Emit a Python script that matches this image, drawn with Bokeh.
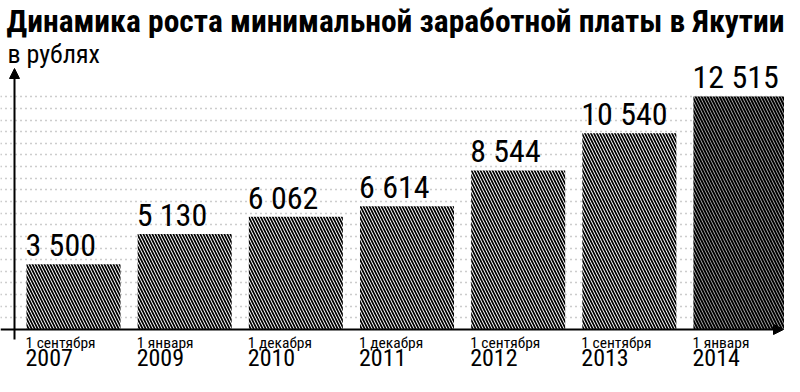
from bokeh.plotting import figure
from bokeh.models import ColumnDataSource, Label, Arrow, NormalHead, FixedTicker
from bokeh.core.properties import value
from bokeh.embed import file_html
from bokeh.resources import INLINE

# ---- data ----
dates = ["1 сентября", "1 января", "1 декабря", "1 декабря", "1 сентября", "1 сентября", "1 января"]
years = ["2007", "2009", "2010", "2011", "2012", "2013", "2014"]
wages = [3500, 5130, 6062, 6614, 8544, 10540, 12515]
value_labels = ["3 500", "5 130", "6 062", "6 614", "8 544", "10 540", "12 515"]
title_text = "Динамика роста минимальной заработной платы в Якутии"
unit_text = "в рублях"

FONT = "Roboto Condensed"
W, H = 784, 376
BAR_W = 0.846
GRID_STEP = 625

n = len(wages)
idx = list(range(n))
left = [i - BAR_W / 2 for i in idx]

src_main = ColumnDataSource(dict(x=idx[:-1], top=wages[:-1]))
src_last = ColumnDataSource(dict(x=idx[-1:], top=wages[-1:]))
src_txt = ColumnDataSource(dict(left=left, top=wages, lab=value_labels, date=dates, year=years))

# pixel mapping
PX_X = 111.17          # px per category
BASE_Y = 329           # baseline, px from top
RUB_PX = 53.71         # roubles per px
x0 = -73 / PX_X
p = figure(width=W, height=H, output_backend="svg", toolbar_location=None,
           x_range=(x0, x0 + W / PX_X),
           y_range=(-(H - BASE_Y) * RUB_PX, BASE_Y * RUB_PX),
           min_border=0, outline_line_color=None, background_fill_color="white")
p.xaxis.visible = False
p.yaxis.visible = False
p.xgrid.visible = False
p.ygrid.ticker = FixedTicker(ticks=[GRID_STEP * k for k in range(1, 21)])
p.ygrid.grid_line_color = "#9a9a9a"
p.ygrid.grid_line_dash = "1 4"
p.ygrid.grid_line_width = 1.5

p.vbar(x="x", top="top", bottom=0, width=BAR_W, source=src_main,
       fill_color="white", line_color=None,
       hatch_pattern="\\", hatch_color="black", hatch_scale=6, hatch_weight=1.7)
p.vbar(x="x", top="top", bottom=0, width=BAR_W, source=src_last,
       fill_color="#b0b0b0", line_color=None,
       hatch_pattern="\\", hatch_color="black", hatch_scale=6, hatch_weight=1.9)

p.text(x="left", y="top", text="lab", source=src_txt, text_baseline="bottom",
       text_align="left", y_offset=0, x_offset=-1,
       text_font=value(FONT), text_font_size="32px", text_color="black")
p.text(x="left", y=0, text="date", source=src_txt, text_baseline="top",
       text_align="left", y_offset=4, x_offset=-1,
       text_font=value(FONT), text_font_size="15.5px", text_color="black")
p.text(x="left", y=0, text="year", source=src_txt, text_baseline="top",
       text_align="left", y_offset=19, x_offset=-1,
       text_font=value(FONT), text_font_size="24px", text_color="black")

ax_x = (14 - 73) / PX_X
p.add_layout(Arrow(x_start=ax_x, y_start=-10 * RUB_PX, x_end=ax_x, y_end=(BASE_Y - 68) * RUB_PX,
                   line_width=2, line_color="black",
                   end=NormalHead(size=10, fill_color="black", line_color="black")))
p.add_layout(Arrow(x_start=x0, y_start=0, x_end=(783 - 73) / PX_X, y_end=0,
                   line_width=2, line_color="black",
                   end=NormalHead(size=10, fill_color="black", line_color="black")))

p.add_layout(Label(x=6, y=H - 2.5, x_units="screen", y_units="screen", text=title_text,
                   text_baseline="top", text_font=FONT, text_font_style="bold",
                   text_font_size="31.5px", text_color="black"))
p.add_layout(Label(x=7, y=H - 38, x_units="screen", y_units="screen", text=unit_text,
                   text_baseline="top", text_font=FONT,
                   text_font_size="26px", text_color="black"))

open("out.html", "w").write(file_html(p, INLINE))
